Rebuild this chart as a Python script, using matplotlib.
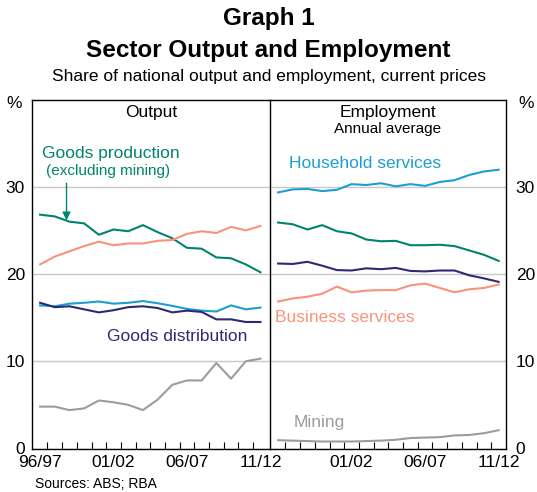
import matplotlib
matplotlib.use("Agg")
import matplotlib.pyplot as plt
import numpy as np

plt.rcParams['font.family'] = ['Liberation Sans', 'DejaVu Sans']

years = ['96/97', '97/98', '98/99', '99/00', '00/01', '01/02', '02/03', '03/04',
         '04/05', '05/06', '06/07', '07/08', '08/09', '09/10', '10/11', '11/12']
tick_labels_left = ['96/97', '01/02', '06/07', '11/12']
tick_labels_right = ['', '01/02', '06/07', '11/12']

# Output shares (%)
out_goods_prod = [26.8, 26.6, 26.0, 25.8, 24.5, 25.1, 24.9, 25.6, 24.8, 24.1, 23.0, 22.9, 21.9, 21.8, 21.1, 20.2]
out_business = [21.1, 22.0, 22.6, 23.2, 23.7, 23.3, 23.5, 23.5, 23.8, 23.9, 24.6, 24.9, 24.7, 25.4, 25.0, 25.5]
out_household = [16.4, 16.3, 16.6, 16.7, 16.85, 16.6, 16.7, 16.9, 16.65, 16.35, 16.0, 15.8, 15.7, 16.4, 15.95, 16.15]
out_goods_dist = [16.7, 16.2, 16.3, 15.95, 15.6, 15.85, 16.2, 16.3, 16.1, 15.6, 15.8, 15.65, 14.8, 14.8, 14.5, 14.5]
out_mining = [4.8, 4.8, 4.4, 4.6, 5.5, 5.3, 5.0, 4.4, 5.6, 7.3, 7.8, 7.8, 9.8, 8.0, 10.0, 10.3]

# Employment shares (%)
emp_household = [29.35, 29.7, 29.75, 29.5, 29.65, 30.3, 30.2, 30.4, 30.05, 30.3, 30.1, 30.55, 30.75, 31.35, 31.75, 31.95]
emp_goods_prod = [25.9, 25.7, 25.1, 25.6, 24.9, 24.65, 23.95, 23.75, 23.8, 23.3, 23.3, 23.35, 23.2, 22.7, 22.2, 21.5]
emp_goods_dist = [21.2, 21.15, 21.4, 20.95, 20.45, 20.4, 20.65, 20.55, 20.7, 20.35, 20.3, 20.4, 20.4, 19.85, 19.5, 19.1]
emp_business = [16.85, 17.2, 17.4, 17.75, 18.55, 17.9, 18.1, 18.15, 18.15, 18.7, 18.9, 18.4, 17.9, 18.25, 18.4, 18.8]
emp_mining = [0.95, 0.9, 0.85, 0.8, 0.8, 0.8, 0.85, 0.9, 1.0, 1.2, 1.25, 1.3, 1.5, 1.55, 1.75, 2.1]

C_GREEN = '#00846E'
C_ORANGE = '#F8937A'
C_BLUE = '#1C9FD0'
C_NAVY = '#2D2A75'
C_GRAY = '#9C9C9C'
C_GRID = '#C8C8C8'

FS = 12.5

W, H = 537, 492
fig = plt.figure(figsize=(W / 100, H / 100), dpi=100)

def fx(px):
    return px / W

def fy(py):
    return 1 - py / H

ax_top, ax_bot = 99.5, 448.5
axL = fig.add_axes([fx(32), fy(ax_bot), fx(270 - 32), (ax_bot - ax_top) / H])
axR = fig.add_axes([fx(270), fy(ax_bot), fx(506 - 270), (ax_bot - ax_top) / H])

x = np.arange(len(years))
lw = 1.5

for ax, labs in ((axL, tick_labels_left), (axR, tick_labels_right)):
    ax.set_ylim(0, 40)
    ax.set_yticks([0, 10, 20, 30])
    ax.yaxis.grid(True, color=C_GRID, lw=1.0)
    ax.set_axisbelow(True)
    ax.set_xticks([0, 5, 10, 15])
    ax.set_xticklabels(labs, fontsize=FS)
    ax.set_xticks(np.arange(0.5, 15, 1), minor=True)
    ax.tick_params(axis='x', which='major', length=0, pad=5)
    ax.tick_params(axis='x', which='minor', direction='in', length=5, width=0.8)
    ax.tick_params(axis='y', length=0, labelsize=FS)
    for s in ax.spines.values():
        s.set_linewidth(1.0)
        s.set_color('black')

axL.set_xlim(-0.55, 15.65)
axR.set_xlim(-0.55, 15.5)

axL.tick_params(axis='y', pad=5)
axR.yaxis.tick_right()
axR.tick_params(axis='y', pad=7)
axL.spines['right'].set_visible(False)

# Output panel
axL.plot(x, out_goods_prod, color=C_GREEN, lw=lw)
axL.plot(x, out_business, color=C_ORANGE, lw=lw)
axL.plot(x, out_household, color=C_BLUE, lw=lw)
axL.plot(x, out_goods_dist, color=C_NAVY, lw=lw)
axL.plot(x, out_mining, color=C_GRAY, lw=lw)

# Employment panel
axR.plot(x, emp_household, color=C_BLUE, lw=lw)
axR.plot(x, emp_goods_prod, color=C_GREEN, lw=lw)
axR.plot(x, emp_goods_dist, color=C_NAVY, lw=lw)
axR.plot(x, emp_business, color=C_ORANGE, lw=lw)
axR.plot(x, emp_mining, color=C_GRAY, lw=lw)

# Panel titles
axL.text(0.5, 0.963, 'Output', transform=axL.transAxes, ha='center', va='center', fontsize=FS)
axR.text(0.5, 0.963, 'Employment', transform=axR.transAxes, ha='center', va='center', fontsize=FS)
axR.text(0.5, 0.915, 'Annual average', transform=axR.transAxes, ha='center', va='center', fontsize=11)

# Series labels
axL.text(0.040, 0.846, 'Goods production', transform=axL.transAxes, ha='left', va='center',
         fontsize=FS, color=C_GREEN)
axL.text(0.060, 0.795, '(excluding mining)', transform=axL.transAxes, ha='left', va='center',
         fontsize=11, color=C_GREEN)
axL.annotate('', xy=(1.8, out_goods_prod[1] - 0.45), xytext=(1.8, 30.4),
             arrowprops=dict(arrowstyle='-|>', color=C_GREEN, lw=1.0, mutation_scale=12,
                             shrinkA=0, shrinkB=0))
axL.text(0.317, 0.322, 'Goods distribution', transform=axL.transAxes, ha='left', va='center',
         fontsize=FS, color=C_NAVY)
axR.text(0.081, 0.817, 'Household services', transform=axR.transAxes, ha='left', va='center',
         fontsize=FS, color=C_BLUE)
axR.text(0.021, 0.376, 'Business services', transform=axR.transAxes, ha='left', va='center',
         fontsize=FS, color=C_ORANGE)
axR.text(0.098, 0.075, 'Mining', transform=axR.transAxes, ha='left', va='center',
         fontsize=FS, color=C_GRAY)

# Percent signs
fig.text(fx(14), fy(104), '%', ha='center', va='center', fontsize=FS)
fig.text(fx(526), fy(104), '%', ha='center', va='center', fontsize=FS)

# Titles
fig.text(0.5, fy(19), 'Graph 1', ha='center', va='center', fontsize=17.5, fontweight='bold')
fig.text(0.5, fy(51), 'Sector Output and Employment', ha='center', va='center', fontsize=17.5, fontweight='bold')
fig.text(0.5, fy(76), 'Share of national output and employment, current prices', ha='center', va='center',
         fontsize=FS)

fig.text(fx(35), fy(484.5), 'Sources: ABS; RBA', ha='left', va='center', fontsize=10)

fig.savefig('out.png', dpi=100)
